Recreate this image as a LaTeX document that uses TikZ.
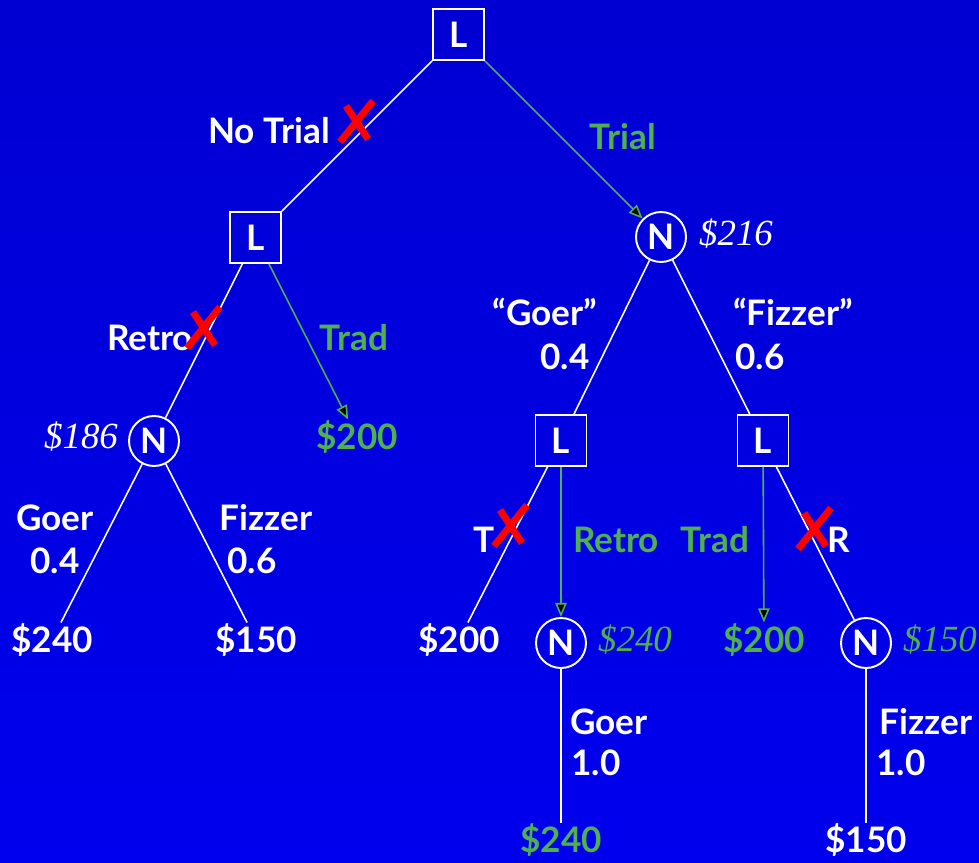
\documentclass[tikz,border=0pt]{standalone}
\usepackage{fontspec}
\setsansfont{Lato}
\newfontfamily\valfont{Liberation Serif}
\usetikzlibrary{arrows.meta}
\definecolor{SlideBlue}{RGB}{0,0,210}
\definecolor{SlideBlueLow}{RGB}{0,0,238}
\definecolor{PickGreen}{RGB}{78,176,78}
\definecolor{CrossRed}{RGB}{255,0,0}

\begin{document}
\begin{tikzpicture}[x=0.02cm, y=-0.02cm, line width=0.9pt,
    dec/.style={draw=white, line width=1.1pt, minimum size=1.02cm,
                inner sep=0pt, text=white,
                font=\sffamily\bfseries\fontsize{20}{24}\selectfont},
    chance/.style={dec, circle, minimum size=1cm},
    lbl/.style={text=white, font=\sffamily\bfseries\fontsize{20}{24}\selectfont},
    pay/.style={lbl, text height=15.5pt, text depth=1.5pt, inner sep=1pt},
    val/.style={text=white, font=\valfont\itshape\fontsize{21}{24}\selectfont},
    branch/.style={draw=white},
    pick/.style={draw=PickGreen, -{Triangle[length=8pt, width=6.5pt, fill=black]}},
    cross/.pic={\draw[CrossRed, line width=4pt] (16,-21) -- (-17,20) (-11,-16) -- (11,17);}]
  % Background
  \useasboundingbox (0,0) rectangle (979,862);
  \fill[top color=SlideBlue, bottom color=SlideBlueLow] (0,0) rectangle (979,862);
  % Decision and chance nodes
  \node[dec] (root) at (458.5,34.5) {L};
  \node[dec] (noTrial) at (255.5,237.5) {L};
  \node[chance] (trial) at (661,237) {N};
  \node[chance] (retroN) at (154,441) {N};
  \node[dec] (goerL) at (561,440.5) {L};
  \node[dec] (fizzL) at (763,440.5) {L};
  \node[chance] (goerN) at (561,643) {N};
  \node[chance] (fizzN) at (866,643) {N};
  % Payoffs
  \node[pay] (p240a) at (52,640) {\$240};
  \node[pay] (p150a) at (256,640) {\$150};
  \node[pay, text=PickGreen] (p200a) at (357,437) {\$200};
  \node[pay] (p200b) at (459,640) {\$200};
  \node[pay, text=PickGreen] (p200c) at (764,640) {\$200};
  \node[pay, text=PickGreen] (p240b) at (561,840) {\$240};
  \node[pay] (p150b) at (866,840) {\$150};
  % Branches
  \draw[branch] (root) -- (noTrial);
  \draw[pick] (root) -- (trial);
  \draw[branch] (noTrial) -- (retroN);
  \draw[pick] (noTrial) -- (p200a);
  \draw[branch] (retroN) -- (p240a);
  \draw[branch] (retroN) -- (p150a);
  \draw[branch] (trial) -- (goerL);
  \draw[branch] (trial) -- (fizzL);
  \draw[branch] (goerL) -- (p200b);
  \draw[pick] (goerL) -- (goerN);
  \draw[pick] (fizzL) -- (p200c);
  \draw[branch] (fizzL) -- (fizzN);
  \draw[branch] (goerN) -- (p240b);
  \draw[branch] (fizzN) -- (p150b);
  % Branch labels
  \node[lbl] (lNoTrial) at (269,131) {No Trial};
  \node[lbl, text=PickGreen] (lTrial) at (623,137) {Trial};
  \node[lbl] (lRetro) at (150,338) {Retro};
  \node[lbl, text=PickGreen] (lTrad) at (354,338) {Trad};
  \node[lbl] (lGoer) at (55,518) {Goer};
  \node[lbl] (pGoer) at (55,561) {0.4};
  \node[lbl] (lFizz) at (266,518) {Fizzer};
  \node[lbl] (pFizz) at (252,561) {0.6};
  \node[lbl] (lSaysGoer) at (545,312) {“Goer”};
  \node[lbl] (pSaysGoer) at (565,357) {0.4};
  \node[lbl] (lSaysFizz) at (793,312) {“Fizzer”};
  \node[lbl] (pSaysFizz) at (760,357) {0.6};
  \node[lbl] (lT) at (484,540) {T};
  \node[lbl, text=PickGreen] (lRetroB) at (616,540) {Retro};
  \node[lbl, text=PickGreen] (lTradB) at (715,540) {Trad};
  \node[lbl] (lR) at (839,540) {R};
  \node[lbl] (lGoerB) at (609,722) {Goer};
  \node[lbl] (pGoerB) at (596,763) {1.0};
  \node[lbl] (lFizzB) at (926,722) {Fizzer};
  \node[lbl] (pFizzB) at (901,763) {1.0};
  % Expected values
  \node[val] (v216) at (736,234) {\$216};
  \node[val] (v186) at (81,437) {\$186};
  \node[val, text=PickGreen] (v240) at (635,640) {\$240};
  \node[val, text=PickGreen] (v150) at (940,640) {\$150};
  % Rejected choices
  \pic at (357,122) {cross};
  \pic at (204,328) {cross};
  \pic at (511,526) {cross};
  \pic at (815,529) {cross};
\end{tikzpicture}
\end{document}
